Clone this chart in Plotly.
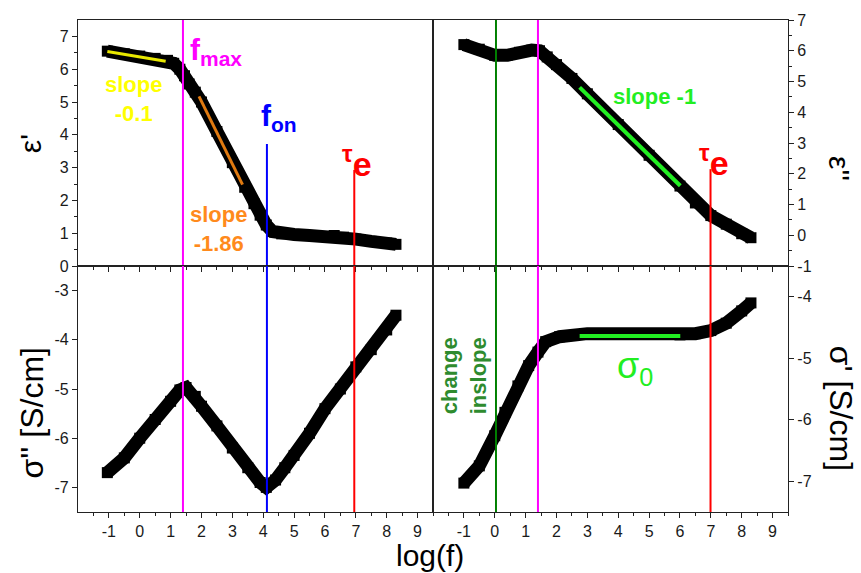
import numpy as np
import plotly.graph_objects as go

# ---------------- data ----------------
# top-left: eps' vs log(f)
eps1_x = [-1.05, -0.5, 0.0, 0.5, 0.9, 1.1, 1.3, 1.45, 1.6, 1.8, 2.0, 2.5, 3.0, 3.4, 3.7, 3.9,
          4.1, 4.3, 4.6, 5.0, 5.5, 6.0, 6.3, 6.6, 7.0, 7.5, 8.0, 8.3]
eps1_y = [6.55, 6.47, 6.40, 6.33, 6.27, 6.18, 6.0, 5.8, 5.55, 5.3, 5.0, 4.1, 3.15, 2.4, 1.9, 1.55,
          1.25, 1.05, 0.98, 0.96, 0.93, 0.90, 0.93, 0.88, 0.82, 0.75, 0.70, 0.66]

# top-right: eps'' vs log(f)
eps2_x = [-1.0, -0.5, 0.0, 0.4, 0.8, 1.2, 1.45, 1.7, 2.0, 2.5, 3.0, 4.0, 5.0, 6.0, 6.5, 7.0,
          7.5, 8.0, 8.3]
eps2_y = [6.2, 6.05, 5.85, 5.85, 5.95, 6.02, 6.0, 5.8, 5.55, 5.1, 4.6, 3.6, 2.6, 1.6, 1.05, 0.64,
          0.36, 0.05, -0.08]

# bottom-left: log sigma'' vs log(f)
sig2_x = [-1.05, -0.5, 0.0, 0.5, 1.0, 1.3, 1.5, 1.8, 2.0, 2.5, 3.0, 3.5, 3.9, 4.1, 4.4, 4.7,
          5.0, 5.5, 6.0, 6.5, 7.0, 7.5, 8.0, 8.3]
sig2_y = [-6.7, -6.4, -6.0, -5.62, -5.25, -5.02, -4.97, -5.15, -5.35, -5.75, -6.2, -6.6, -6.9, -7.0,
          -6.85, -6.6, -6.35, -5.9, -5.4, -5.0, -4.55, -4.2, -3.8, -3.5]

# bottom-right: log sigma' vs log(f)
sig1_x = [-1.0, -0.5, 0.0, 0.33, 0.75, 1.1, 1.4, 1.65, 2.1, 3.0, 4.0, 5.0, 6.0, 6.5, 7.0, 7.5,
          8.0, 8.3]
sig1_y = [-7.03, -6.75, -6.26, -5.88, -5.45, -5.12, -4.9, -4.73, -4.65, -4.6, -4.6, -4.6, -4.62,
          -4.6, -4.55, -4.43, -4.23, -4.1]

# fitted slope segments: [x0, x1], [y0, y1]
slope_yellow_x, slope_yellow_y = [-1.05, 0.84], [6.54, 6.24]
slope_orange_x, slope_orange_y = [1.92, 3.33], [5.17, 2.48]
slope_green_x, slope_green_y = [2.75, 6.01], [4.81, 1.61]
sigma0_x, sigma0_y = [2.75, 6.01], [-4.64, -4.64]

# characteristic frequencies (log f)
f_max = 1.4
f_on = 4.12
tau_e_left = 6.95
tau_e_right = 6.99
slope_change = 0.04
# upper ends of the short marker lines
f_on_top = 3.72
tau_e_top_left = 2.93
tau_e_top_right = 2.15

# axis ranges / ticks
x_range = [-2, 9.5]
x_ticks = list(range(-1, 10))
y1_range, y1_ticks = [0, 7.5], list(range(0, 8))
y2_range, y2_ticks = [-1, 7], list(range(-1, 8))
y3_range, y3_ticks = [-7.5, -2.5], [-3, -4, -5, -6, -7]
y4_range, y4_ticks = [-7.5, -3.5], [-4, -5, -6, -7]

MAGENTA = "#ff00ff"
BLUE = "#0000ff"
RED = "#ff0000"
DKGREEN = "#008000"
GREEN = "#22ee22"
YELLOW = "#ffff00"
ORANGE = "#ff8a1c"
FONT = "Liberation Sans"

# plot-area geometry (pixels) used to place paper-referenced titles
W, H = 861, 573
ML, MR, MT, MB = 78, 73, 17, 61

fig = go.Figure()


def curve(x, y, xa, ya):
    fig.add_trace(go.Scatter(x=x, y=y, xaxis=xa, yaxis=ya, mode="lines+markers",
                             line=dict(color="black", width=13),
                             marker=dict(symbol="square", size=11, color="black"),
                             showlegend=False, hoverinfo="skip"))


def seg(x, y, xa, ya, color, width):
    fig.add_trace(go.Scatter(x=x, y=y, xaxis=xa, yaxis=ya, mode="lines",
                             line=dict(color=color, width=width),
                             showlegend=False, hoverinfo="skip", cliponaxis=True))


curve(eps1_x, eps1_y, "x", "y")
curve(eps2_x, eps2_y, "x2", "y2")
curve(sig2_x, sig2_y, "x3", "y3")
curve(sig1_x, sig1_y, "x4", "y4")

seg(slope_yellow_x, slope_yellow_y, "x", "y", "#e8e800", 3)
seg(slope_orange_x, slope_orange_y, "x", "y", "#e07a10", 3)
seg(slope_green_x, slope_green_y, "x2", "y2", GREEN, 4)
seg(sigma0_x, sigma0_y, "x4", "y4", GREEN, 4)

# vertical markers
seg([f_max, f_max], y1_range, "x", "y", MAGENTA, 2)
seg([f_on, f_on], [y1_range[0], f_on_top], "x", "y", BLUE, 2)
seg([tau_e_left, tau_e_left], [y1_range[0], tau_e_top_left], "x", "y", RED, 2)

seg([f_max, f_max], y3_range, "x3", "y3", MAGENTA, 2)
seg([f_on, f_on], y3_range, "x3", "y3", BLUE, 2)
seg([tau_e_left, tau_e_left], y3_range, "x3", "y3", RED, 2)

seg([slope_change, slope_change], y2_range, "x2", "y2", DKGREEN, 2)
seg([f_max, f_max], y2_range, "x2", "y2", MAGENTA, 2)
seg([tau_e_right, tau_e_right], [y2_range[0], tau_e_top_right], "x2", "y2", RED, 2)

seg([slope_change, slope_change], y4_range, "x4", "y4", DKGREEN, 2)
seg([f_max, f_max], y4_range, "x4", "y4", MAGENTA, 2)
seg([tau_e_right, tau_e_right], y4_range, "x4", "y4", RED, 2)

tickfont = dict(family=FONT, size=16, color="#1a1a1a")
LINEC = "#222222"
minor_x = dict(tickvals=list(np.arange(-1.5, 9.51, 1.0)), ticklen=3, ticks="outside",
               tickcolor=LINEC, tickwidth=1.2)


def xax(domain, anchor, labels):
    return dict(domain=domain, anchor=anchor, range=x_range, tickmode="array",
                tickvals=x_ticks, ticktext=[str(v) for v in x_ticks], showticklabels=labels,
                ticks="outside", ticklen=5, tickwidth=1.2, tickcolor=LINEC,
                showline=True, linecolor=LINEC, linewidth=1.2, mirror=True,
                showgrid=False, zeroline=False, tickfont=tickfont, minor=minor_x)


def yax(domain, anchor, rng, ticks, side):
    minor_vals = list(np.arange(rng[0] + 0.5, rng[1], 1.0))
    return dict(domain=domain, anchor=anchor, range=rng, side=side, tickmode="array",
                tickvals=ticks, ticktext=[str(v) for v in ticks],
                ticks="outside", ticklen=5, tickwidth=1.2, tickcolor=LINEC,
                showline=True, linecolor=LINEC, linewidth=1.2, mirror=True,
                showgrid=False, zeroline=False, tickfont=tickfont,
                minor=dict(tickvals=minor_vals, ticklen=3, ticks="outside",
                           tickcolor=LINEC, tickwidth=1.2))


fig.update_layout(
    width=W, height=H,
    margin=dict(l=ML, r=MR, t=MT, b=MB),
    paper_bgcolor="white", plot_bgcolor="white",
    font=dict(family=FONT, color="black"),
    xaxis=xax([0, 0.5], "y", False),
    xaxis2=xax([0.5, 1], "y2", False),
    xaxis3=xax([0, 0.5], "y3", True),
    xaxis4=xax([0.5, 1], "y4", True),
    yaxis=yax([0.5, 1], "x", y1_range, y1_ticks, "left"),
    yaxis2=yax([0.5, 1], "x2", y2_range, y2_ticks, "right"),
    yaxis3=yax([0, 0.5], "x3", y3_range, y3_ticks, "left"),
    yaxis4=yax([0, 0.5], "x4", y4_range, y4_ticks, "right"),
)


def ann(text, x, y, xref, yref, color, size, bold=True, angle=0, xanchor="center",
        yanchor="middle", align="center"):
    t = f"<b>{text}</b>" if bold else text
    fig.add_annotation(text=t, x=x, y=y, xref=xref, yref=yref, showarrow=False,
                       font=dict(family=FONT, size=size, color=color), textangle=angle,
                       xanchor=xanchor, yanchor=yanchor, align=align)


def px_ann(text, px, py, size, angle):
    ann(text, (px - ML) / (W - ML - MR), 1 - (py - MT) / (H - MT - MB), "paper", "paper",
        "black", size, bold=False, angle=angle)


# in-panel labels
ann("f<sub>max</sub>", 1.55, 7.15, "x", "y", MAGENTA, 30, xanchor="left", yanchor="top")
ann("slope<br>-0.1", -0.19, 5.09, "x", "y", YELLOW, 22)
ann("f<sub>on</sub>", 3.85, 5.15, "x", "y", BLUE, 30, xanchor="left", yanchor="top")
ann("<sup>τ</sup>e", 6.5, 3.2, "x", "y", RED, 34, xanchor="left")
ann("slope<br>-1.86", 2.54, 1.13, "x", "y", ORANGE, 22)

ann("slope -1", 5.19, 4.52, "x2", "y2", GREEN, 22)
ann("<sup>τ</sup>e", 6.55, 2.42, "x2", "y2", RED, 34, xanchor="left")

ann("change<br>inslope", -0.97, -5.28, "x4", "y4", "#2e8b2e", 22, angle=-90)
ann("σ<sub>0</sub>", 4.54, -5.16, "x4", "y4", GREEN, 36, bold=False)

# axis titles
px_ann("ε'", 30, 142, 30, -90)
px_ann("σ'' [S/cm]", 32, 412, 32, -90)
px_ann("ε''", 840, 167, 30, 90)
px_ann("σ' [S/cm]", 841, 408, 32, 90)
px_ann("log(f)", 430, 556, 30, 0)

fig.write_html("out.html")
